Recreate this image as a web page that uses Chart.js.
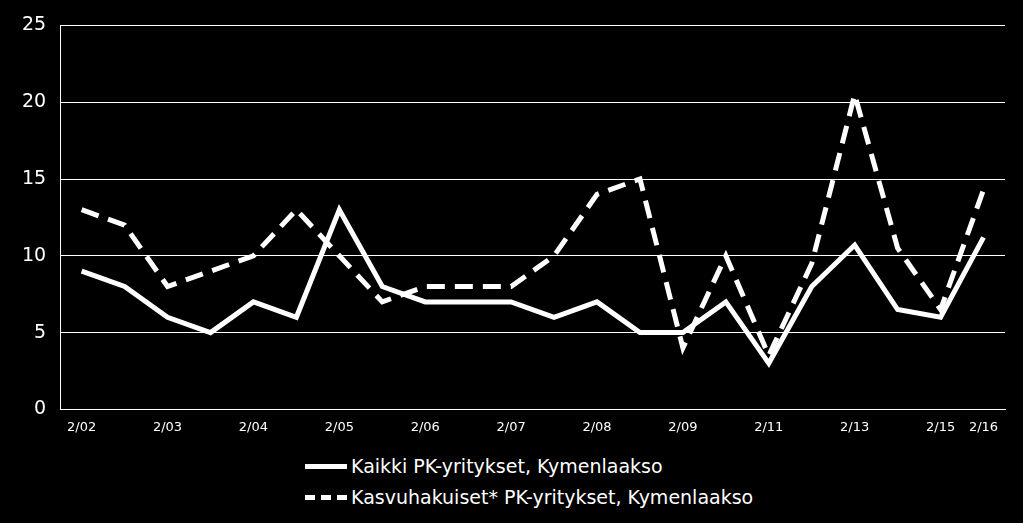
<!DOCTYPE html>
<html><head><meta charset="utf-8">
<script src="https://cdn.jsdelivr.net/npm/chart.js@4"></script>
<style>
body{margin:0;background:#000;width:1023px;height:523px;overflow:hidden;font-family:"DejaVu Sans",sans-serif;}
#wrap{position:absolute;left:0;top:0;width:1023px;height:445px;}
.lg{position:absolute;left:305px;color:#fff;font-size:19px;display:flex;align-items:center;}
.lg span.s{display:inline-block;width:42px;margin-right:4px;border-top:5px solid #fff;}
.lg span.d{border-top:5px dashed #fff;}
</style></head><body>
<div id="wrap"><canvas id="c"></canvas></div>
<div class="lg" style="top:455px"><span class="s"></span>Kaikki PK-yritykset, Kymenlaakso</div>
<div class="lg" style="top:486px"><span class="s d"></span>Kasvuhakuiset* PK-yritykset, Kymenlaakso</div>
<script>
const categories=['2/02','','2/03','','2/04','','2/05','','2/06','','2/07','','2/08','','2/09','','2/11','','2/13','','2/15','2/16'];
const kaikki=[9,8,6,5,7,6,13,8,7,7,7,6,7,5,5,7,3,8,10.7,6.5,6,11.2];
const kasvu=[13,12,8,9,10,13,10,7,8,8,8,10,14,15,4,10,3.5,9.5,20.5,10.5,6.5,14.3];
const yTicks=[0,5,10,15,20,25];
new Chart(document.getElementById('c'),{type:'line',
data:{labels:categories,datasets:[
{label:'Kaikki PK-yritykset, Kymenlaakso',data:kaikki,borderColor:'#fff',borderWidth:5,pointRadius:0,tension:0},
{label:'Kasvuhakuiset* PK-yritykset, Kymenlaakso',data:kasvu,borderColor:'#fff',borderWidth:5,borderDash:[18,10],pointRadius:0,tension:0}]},
options:{responsive:true,maintainAspectRatio:false,animation:false,
layout:{padding:{top:1,right:18,left:8,bottom:0}},
plugins:{legend:{display:false},tooltip:{enabled:false}},
scales:{
x:{offset:true,grid:{display:false,drawTicks:false},border:{color:'#fff',width:1},
ticks:{color:'#fff',font:{family:'DejaVu Sans',size:13},autoSkip:false,maxRotation:0,padding:10}},
y:{min:0,max:25,afterBuildTicks:a=>{a.ticks=yTicks.map(v=>({value:v}));},
grid:{color:'#fff',lineWidth:1,drawTicks:false},border:{color:'#fff',width:1,display:true},
ticks:{color:'#fff',font:{family:'DejaVu Sans',size:19},padding:14}}}}});
</script></body></html>
